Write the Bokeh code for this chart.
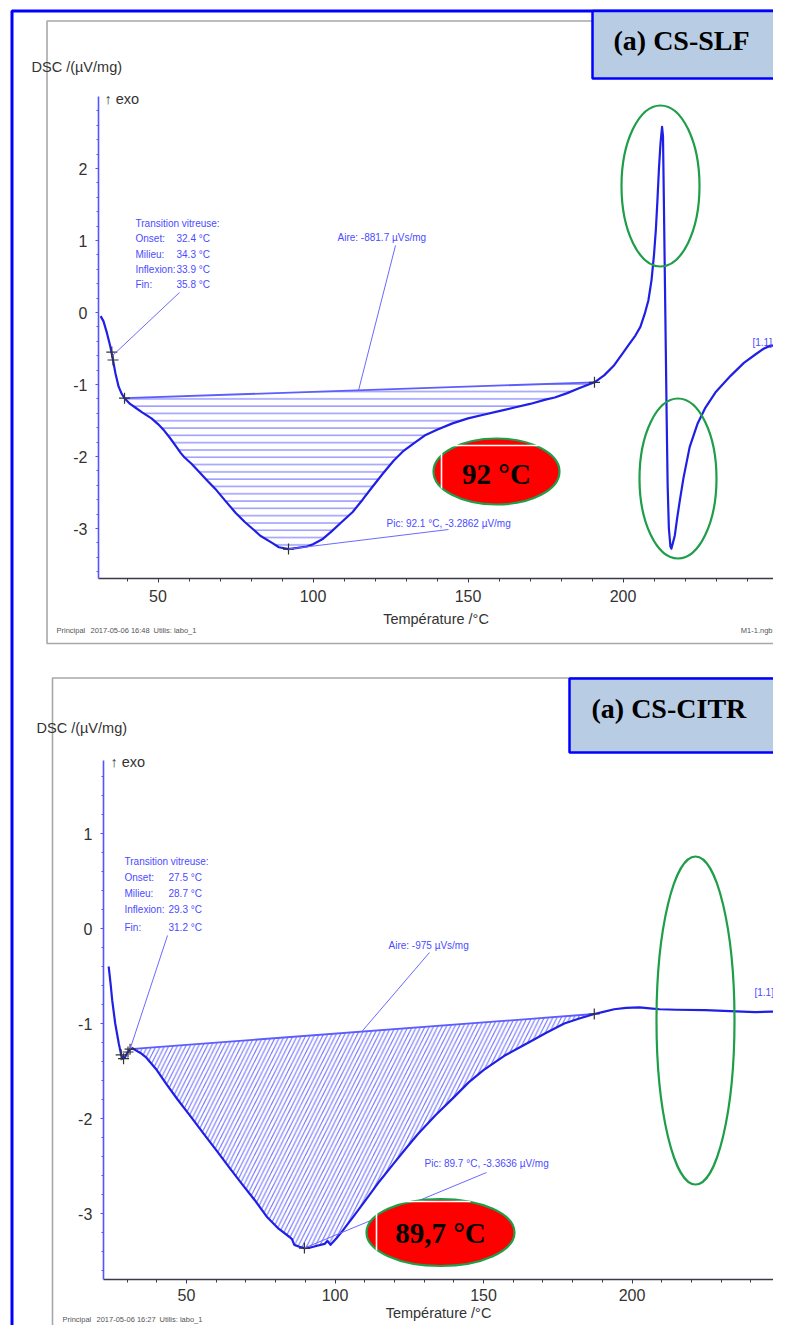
import numpy as np
from bokeh.plotting import figure
from bokeh.models import Range1d, LinearAxis, FixedTicker
from bokeh.core.properties import value
from bokeh.embed import file_html
from bokeh.resources import INLINE

# ---------------- data ----------------
# Panel 1 : CS-SLF
T1 = [31.5, 32.4, 33.5, 34.5, 35.3, 36.3, 37.3, 38.3, 39.2, 41, 43, 45, 47.9, 50, 52, 54, 56,
      57.3, 58.5, 60.8, 63, 66, 68.9, 72, 75, 78, 80.4, 83, 86.8, 89, 92.1, 95, 98, 100, 103,
      106, 109, 112.8, 116, 119, 122.5, 126, 129, 132.4, 136, 140, 145, 150, 155, 160, 165,
      170, 175, 178, 182, 186, 190.8, 194, 197, 200, 202, 204, 205.6, 207, 208.2, 209.2,
      210.0, 210.6, 211.1, 211.6, 212.1, 212.6, 212.9, 213.2, 213.5, 213.8, 214.1, 214.4,
      214.8, 215.3, 215.6, 216.1, 216.7, 217.5, 218.3, 219.5, 221.5, 224, 226.6, 230, 234.7,
      239, 242.8, 245.5, 247.6, 249, 250.5, 252, 253.8]
DSC1 = [-0.05, -0.12, -0.28, -0.45, -0.62, -0.85, -1.03, -1.13, -1.19, -1.27, -1.33, -1.39,
        -1.47, -1.55, -1.64, -1.75, -1.87, -1.95, -2.01, -2.1, -2.2, -2.34, -2.47, -2.63,
        -2.78, -2.91, -3.0, -3.1, -3.2, -3.26, -3.286, -3.27, -3.25, -3.22, -3.15, -3.04,
        -2.92, -2.77, -2.6, -2.43, -2.24, -2.06, -1.93, -1.82, -1.71, -1.63, -1.54, -1.47,
        -1.42, -1.37, -1.32, -1.27, -1.21, -1.18, -1.12, -1.05, -0.97, -0.87, -0.74, -0.56,
        -0.44, -0.32, -0.2, -0.02, 0.17, 0.45, 0.8, 1.15, 1.55, 2.0, 2.35, 2.58, 2.45, 1.5,
        0.5, -0.5, -1.5, -2.4, -3.0, -3.25, -3.28, -3.2, -3.1, -2.85, -2.62, -2.3, -1.87,
        -1.55, -1.32, -1.1, -0.88, -0.7, -0.58, -0.5, -0.46, -0.46, -0.5, -0.5, -0.48]
base1_T = [39.2, 190.8]
base1_v = [-1.19, -0.97]
cross1_T = [35.1, 35.5, 39.2, 190.8, 92.1]
cross1_v = [-0.55, -0.66, -1.19, -0.97, -3.286]
tg1_labels = ["Transition vitreuse:", "Onset:", "Milieu:", "Inflexion:", "Fin:"]
tg1_values = ["", "32.4 °C", "34.3 °C", "33.9 °C", "35.8 °C"]
aire1 = "Aire: -881.7 µVs/mg"
pic1 = "Pic: 92.1 °C, -3.2862 µV/mg"
pic1_T, pic1_v = 92.1, -3.2862
box1 = "92 °C"
name1 = "(a) CS-SLF"
foot1 = ["Principal", "2017-05-06 16:48", "Utilis: labo_1"]

# Panel 2 : CS-CITR
T2 = [23.8, 24.5, 25.0, 26, 27.2, 28.0, 28.5, 29.2, 30.0, 31.0, 31.8, 32.8, 34.5, 36.5, 40,
      43.3, 47, 51.7, 56, 60.2, 64.5, 68.7, 73, 77.2, 81, 84.8, 85.5, 86.3, 88, 89.7, 91.5,
      94, 96.5, 97.5, 98.5, 100.5, 102.6, 106.5, 111, 115, 119.6, 124, 128, 134, 139.9, 145,
      150, 157, 165.2, 171, 177.2, 182, 187.3, 190, 194, 198, 202.5, 206, 209.3, 215, 224.6,
      233, 241.5, 247, 252.7]
DSC2 = [-0.40, -0.6, -0.76, -1.0, -1.21, -1.33, -1.37, -1.36, -1.31, -1.27, -1.26, -1.28,
        -1.31, -1.36, -1.49, -1.64, -1.8, -1.99, -2.17, -2.34, -2.52, -2.69, -2.86, -3.04,
        -3.16, -3.25, -3.27, -3.33, -3.35, -3.364, -3.36, -3.34, -3.32, -3.29, -3.33, -3.26,
        -3.18, -3.02, -2.83, -2.66, -2.48, -2.31, -2.16, -1.96, -1.78, -1.62, -1.49, -1.34,
        -1.2, -1.1, -1.0, -0.95, -0.9, -0.88, -0.85, -0.835, -0.83, -0.84, -0.85, -0.855,
        -0.86, -0.87, -0.88, -0.875, -0.87]
base2_T = [31.0, 187.3]
base2_v = [-1.27, -0.9]
cross2_T = [28.0, 28.8, 30.3, 31.0, 187.3, 89.7]
cross2_v = [-1.33, -1.37, -1.30, -1.27, -0.9, -3.364]
tg2_labels = ["Transition vitreuse:", "Onset:", "Milieu:", "Inflexion:", "Fin:"]
tg2_values = ["", "27.5 °C", "28.7 °C", "29.3 °C", "31.2 °C"]
aire2 = "Aire: -975 µVs/mg"
pic2 = "Pic: 89.7 °C, -3.3636 µV/mg"
pic2_T, pic2_v = 89.7, -3.3636
box2 = "89,7 °C"
name2 = "(a) CS-CITR"
foot2 = ["Principal", "2017-05-06 16:27", "Utilis: labo_1"]

x_major = [50, 100, 150, 200, 250]
y1_major = [-3, -2, -1, 0, 1, 2]
y2_major = [-3, -2, -1, 0, 1]

# ---------------- layout (canvas pixels) ----------------
W, H = 773, 1325
FONT = "Liberation Sans"
SANS = value(FONT)
SERIF = value("Liberation Serif")
BLUE_TXT = "#4b4bff"
CURVE = "#1f1fe6"

# panel calibrations: pixel of T=50, px per degC, pixel of v=0, px per unit
C1 = dict(x50=157.5, kx=3.1, y0=312.0, ky=72.0)
C2 = dict(x50=186.0, kx=2.97, y0=928.0, ky=95.0)


def t_at(c, px):
    return 50 + (px - c["x50"]) / c["kx"]


def v_at(c, py):
    return (c["y0"] - py) / c["ky"]


p = figure(width=W, height=H, output_backend="svg", toolbar_location=None,
           x_range=Range1d(0, W), y_range=Range1d(H, 0),
           x_axis_type=None, y_axis_type=None, min_border=0)
p.outline_line_color = None
p.background_fill_color = "white"
p.border_fill_color = "white"
p.extra_x_ranges = {"x1": Range1d(t_at(C1, 0), t_at(C1, W)),
                    "x2": Range1d(t_at(C2, 0), t_at(C2, W))}
p.extra_y_ranges = {"y1": Range1d(v_at(C1, H), v_at(C1, 0)),
                    "y2": Range1d(v_at(C2, H), v_at(C2, 0))}

# ---------------- frames / decorations ----------------
p.quad(left=[46.5, 52], right=[900, 900], top=[20.5, 677.5], bottom=[643, 1500],
       fill_color=None, line_color="#a8a8a8", line_width=1.6)
p.quad(left=[11.5], right=[900], top=[10.5], bottom=[1500], fill_color=None,
       line_color="#0000ff", line_width=3)

hatch_scale = {"horizontal_line": 7.3, "right_diagonal_line": 8.5}


def panel(c, xr, yr, T, D, bT, bv, cT, cv, hatch, x_lo, y_lo, y_hi, y_major,
          x_minor_start, tick_standoff, label_standoff):
    # axes
    xa = LinearAxis(x_range_name=xr, y_range_name=yr, fixed_location=y_lo,
                    bounds=(x_lo, 256),
                    ticker=FixedTicker(ticks=x_major,
                                       minor_ticks=list(range(x_minor_start, 260, 10))),
                    axis_label="Température /°C")
    xa.axis_line_color = "#3a3a4a"
    xa.axis_line_width = 1.6
    xa.major_tick_line_color = "#3a3a4a"
    xa.minor_tick_line_color = "#3a3a4a"
    xa.major_tick_in = 0
    xa.major_tick_out = 4
    xa.minor_tick_in = 0
    xa.minor_tick_out = 3
    xa.major_label_standoff = tick_standoff
    xa.major_label_text_font = FONT
    xa.major_label_text_font_size = "16px"
    xa.major_label_text_color = "#333333"
    xa.axis_label_text_font = FONT
    xa.axis_label_text_font_size = "14.5px"
    xa.axis_label_text_font_style = "normal"
    xa.axis_label_text_color = "#333333"
    xa.axis_label_standoff = label_standoff
    p.add_layout(xa, "below")

    minor = [round(v, 1) for v in np.arange(-3.6, y_hi, 0.2)]
    ya = LinearAxis(x_range_name=xr, y_range_name=yr, fixed_location=x_lo,
                    bounds=(y_lo, y_hi),
                    ticker=FixedTicker(ticks=y_major, minor_ticks=minor))
    ya.major_label_overrides = {k: str(k) for k in y_major}
    ya.axis_line_color = "#5555ff"
    ya.axis_line_width = 1.6
    ya.major_tick_line_color = "#5555ff"
    ya.minor_tick_line_color = "#5555ff"
    ya.major_tick_in = 0
    ya.major_tick_out = 3
    ya.minor_tick_in = 0
    ya.minor_tick_out = 2
    ya.major_label_standoff = 8
    ya.major_label_text_font = FONT
    ya.major_label_text_font_size = "16px"
    ya.major_label_text_color = "#333333"
    p.add_layout(ya, "left")

    # hatched area between baseline and curve
    sel = [(t, d) for t, d in zip(T, D) if bT[0] <= t <= bT[1]]
    p.patch([s[0] for s in sel], [s[1] for s in sel], x_range_name=xr, y_range_name=yr,
            fill_color="white", fill_alpha=0.0, line_color=None,
            hatch_pattern=hatch, hatch_color="#7474ff", hatch_weight=1.1,
            hatch_scale=hatch_scale[hatch])
    p.line(bT, bv, x_range_name=xr, y_range_name=yr, line_color="#5c5cff", line_width=1.8)
    p.line(T, D, x_range_name=xr, y_range_name=yr, line_color=CURVE, line_width=2.2,
           line_join="round")
    p.scatter(cT, cv, x_range_name=xr, y_range_name=yr, marker="cross", size=11,
              line_color="#333333", line_width=1.2)


panel(C1, "x1", "y1", T1, DSC1, base1_T, base1_v, cross1_T, cross1_v,
      "horizontal_line", 30.8, -3.7, 3.0, y1_major, 40, 7, 6)
panel(C2, "x2", "y2", T2, DSC2, base2_T, base2_v, cross2_T, cross2_v,
      "right_diagonal_line", 22.0, -3.69, 1.77, y2_major, 30, 6, 0)


# leader lines (text end converted from canvas pixels to data, data end = value)
def leader(c, xr, yr, px, py, T, v):
    p.line([t_at(c, px), T], [v_at(c, py), v], x_range_name=xr, y_range_name=yr,
           line_color="#6a6aff", line_width=1)


leader(C1, "x1", "y1", 179, 292, 35.3, -0.6)
leader(C1, "x1", "y1", 395, 245, 114.7, -1.08)
leader(C1, "x1", "y1", 448, 529, pic1_T, pic1_v)
leader(C2, "x2", "y2", 167, 935, 31.0, -1.27)
leader(C2, "x2", "y2", 429, 952, 109.0, -1.086)
leader(C2, "x2", "y2", 486, 1172, pic2_T, pic2_v)

# blue annotation texts
ann = dict(text_font=SANS, text_font_size="10px", text_color=BLUE_TXT,
           text_baseline="middle", text_align="left")
p.text(x=[135] * 5, y=[222.5, 238.3, 254, 269.3, 284.3], text=tg1_labels, **ann)
p.text(x=[176] * 5, y=[222.5, 238.3, 254, 269.3, 284.3], text=tg1_values, **ann)
p.text(x=[124] * 5, y=[860.7, 877.3, 892.7, 909.3, 926.7], text=tg2_labels, **ann)
p.text(x=[168] * 5, y=[860.7, 877.3, 892.7, 909.3, 926.7], text=tg2_values, **ann)
p.text(x=[337, 388, 386, 424, 752, 754], y=[237, 945, 523, 1163, 342, 992],
       text=[aire1, aire2, pic1, pic2, "[1.1]", "[1.1]"], **ann)

# axis titles / exo arrows / footers
p.text(x=[31, 36], y=[66, 727], text=["DSC /(µV/mg)", "DSC /(µV/mg)"], text_font=SANS,
       text_font_size="14.5px", text_color="#333333", text_baseline="middle")
p.text(x=[104, 110], y=[98, 761], text=["↑ exo", "↑ exo"], text_font=SANS,
       text_font_size="14.5px", text_color="#333333", text_baseline="middle")
p.text(x=[56, 90, 153, 62, 96, 159], y=[630] * 3 + [1319] * 3, text=foot1 + foot2,
       text_font=SANS, text_font_size="7.5px", text_color="#555555",
       text_baseline="middle")
p.text(x=[772], y=[630], text=["M1-1.ngb"], text_font=SANS, text_font_size="7.5px",
       text_color="#555555", text_baseline="middle", text_align="right")

# green highlight ellipses
p.ellipse(x=[660, 677.5, 695], y=[185.5, 478, 1020], width=[78, 77, 78],
          height=[161, 160, 328], fill_color=None, line_color="#1f9e4a", line_width=2.2)

# red value ellipses
p.ellipse(x=[496, 440], y=[471, 1232], width=[126, 148], height=[66, 67],
          fill_color="#ff0000", line_color="#1f9e4a", line_width=2.2)
p.segment(x0=[441, 441, 376, 376], y0=[445, 445, 1201, 1201],
          x1=[538, 441, 470, 376], y1=[445, 488, 1201, 1250],
          line_color="white", line_width=1.6)
p.text(x=[496, 440], y=[473, 1232], text=[box1, box2], text_font=SERIF,
       text_font_size="29px", text_font_style="bold", text_color="black",
       text_align="center", text_baseline="middle")

# sample name boxes
p.quad(left=[592, 569], right=[900, 900], top=[10.5, 678], bottom=[78, 752],
       fill_color="#b8cce4", line_color="#0000ff", line_width=2.5)
p.text(x=[613, 591], y=[40, 708], text=[name1, name2], text_font=SERIF,
       text_font_size="28px", text_font_style="bold", text_color="black",
       text_baseline="middle", text_align="left")

open("out.html", "w").write(file_html(p, INLINE))
